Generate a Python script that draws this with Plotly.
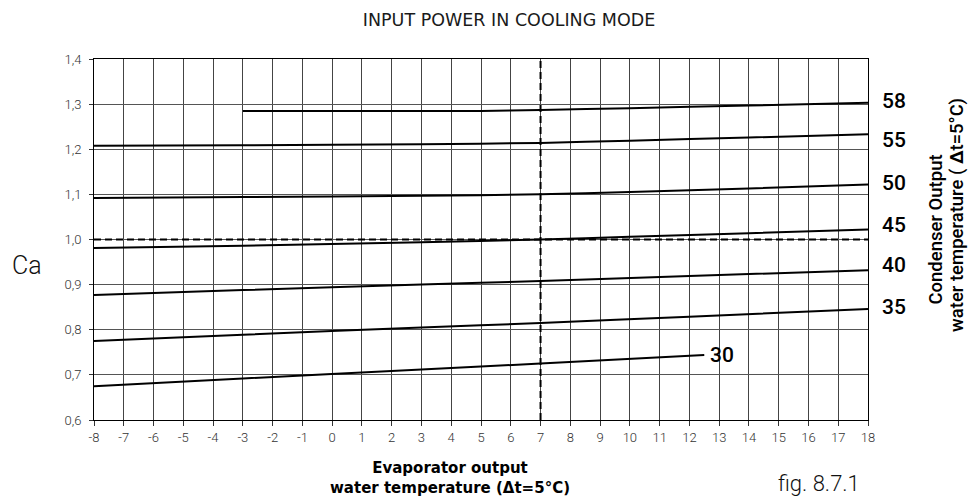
import plotly.graph_objects as go

# Evaporator output water temperature (x) and Ca values for each condenser curve
x_58 = [-3, 0, 5, 7, 10, 14, 18]
y_58 = [1.285, 1.285, 1.285, 1.287, 1.291, 1.297, 1.303]
x_55 = [-8, -3, 3, 7, 10, 14, 18]
y_55 = [1.208, 1.209, 1.211, 1.214, 1.219, 1.226, 1.233]
x_50 = [-8, -3, 3, 7, 10, 14, 18]
y_50 = [1.092, 1.094, 1.097, 1.100, 1.105, 1.113, 1.122]
x_45 = [-8, -3, 3, 7, 10, 14, 18]
y_45 = [0.981, 0.986, 0.994, 1.000, 1.006, 1.014, 1.022]
x_40 = [-8, -3, 3, 7, 12, 18]
y_40 = [0.877, 0.888, 0.900, 0.908, 0.919, 0.932]
x_35 = [-8, -3, 3, 7, 12, 18]
y_35 = [0.775, 0.789, 0.805, 0.815, 0.829, 0.846]
x_30 = [-8, -3, 3, 7, 12.5]
y_30 = [0.675, 0.692, 0.712, 0.725, 0.744]

curve_names = ["58", "55", "50", "45", "40", "35", "30"]
curves_x = [x_58, x_55, x_50, x_45, x_40, x_35, x_30]
curves_y = [y_58, y_55, y_50, y_45, y_40, y_35, y_30]

# Right-hand condenser labels (data y of label centres)
label_y = [1.307, 1.220, 1.125, 1.032, 0.943, 0.850]
label_names = ["58", "55", "50", "45", "40", "35"]

x_ticks = list(range(-8, 19))
x_tick_text = [str(v) for v in x_ticks]          # plain hyphen minus as in the reference
y_ticks = [0.6, 0.7, 0.8, 0.9, 1.0, 1.1, 1.2, 1.3, 1.4]
y_tick_text = ["0,6", "0,7", "0,8", "0,9", "1,0", "1,1", "1,2", "1,3", "1,4"]

ref_x = 7
ref_y = 1.0

FONT = "Roboto"
WIDE = "DejaVu Sans"

fig = go.Figure()

for cx, cy, nm in zip(curves_x, curves_y, curve_names):
    fig.add_trace(go.Scatter(x=cx, y=cy, mode="lines", name=nm,
                             line=dict(color="black", width=2, shape="spline", smoothing=0.6),
                             showlegend=False, hoverinfo="skip"))

# dashed reference lines
fig.add_trace(go.Scatter(x=[x_ticks[0], x_ticks[-1]], y=[ref_y, ref_y], mode="lines",
                         line=dict(color="black", width=2, dash="7px,4px"),
                         showlegend=False, hoverinfo="skip"))
fig.add_trace(go.Scatter(x=[ref_x, ref_x], y=[y_ticks[0], y_ticks[-1]], mode="lines",
                         line=dict(color="black", width=2, dash="7px,4px"),
                         showlegend=False, hoverinfo="skip"))

for ly, ln in zip(label_y, label_names):
    fig.add_annotation(x=1.0, xref="paper", y=ly, yref="y", text=ln, showarrow=False,
                       xanchor="left", xshift=12,
                       font=dict(family=FONT, size=21, color="black", weight=500))

# "30" label at end of its curve
fig.add_annotation(x=x_30[-1], y=y_30[-1], text="30", showarrow=False, xanchor="left",
                   xshift=4, font=dict(family=FONT, size=21, color="black", weight=500))

# right rotated title (two lines)
fig.add_annotation(x=1.0866, xref="paper", y=0.5277, yref="paper",
                   text="Condenser Output", showarrow=False, textangle=-90,
                   xanchor="center", yanchor="middle",
                   font=dict(family=FONT, size=18.5, color="black", weight=500))
fig.add_annotation(x=1.115, xref="paper", y=0.568, yref="paper",
                   text="water temperature ( <b>Δ</b>t=5°C)", showarrow=False, textangle=-90,
                   xanchor="center", yanchor="middle",
                   font=dict(family=FONT, size=18.5, color="black", weight=500))

fig.add_annotation(x=-0.0866, xref="paper", y=0.427, yref="paper", text="Ca",
                   showarrow=False, xanchor="center", yanchor="middle",
                   font=dict(family=FONT, size=25, color="#111", weight=300))

fig.add_annotation(x=0.46, xref="paper", y=-0.1607, yref="paper", yanchor="middle",
                   text="<b>Evaporator output</b><br><b>water temperature (Δt=5°C)</b>",
                   showarrow=False, xanchor="center",
                   font=dict(family=WIDE, size=15, color="black"))

fig.add_annotation(x=0.9367, xref="paper", y=-0.177, yref="paper", yanchor="middle",
                   text="fig. 8.7.1", showarrow=False, xanchor="center",
                   font=dict(family=FONT, size=22, color="#111", weight=300))

fig.update_layout(
    width=979, height=502,
    margin=dict(l=94, r=111, t=59, b=82),
    paper_bgcolor="white", plot_bgcolor="white",
    title=dict(text="INPUT POWER IN COOLING MODE", x=509 / 979, xanchor="center",
               y=1 - 20 / 502, yanchor="middle",
               font=dict(family=WIDE, size=17.5, color="#1a1a1a")),
    font=dict(family=FONT, color="#222"),
)
fig.update_xaxes(range=[x_ticks[0], x_ticks[-1]], tickmode="array", tickvals=x_ticks,
                 ticktext=x_tick_text,
                 showgrid=True, gridcolor="#444", gridwidth=1,
                 showline=True, linecolor="black", linewidth=1, mirror=True,
                 ticks="outside", ticklen=5, tickcolor="#333",
                 tickfont=dict(family=FONT, size=13, color="#333", weight=300),
                 zeroline=False)
fig.update_yaxes(range=[y_ticks[0], y_ticks[-1]], tickmode="array", tickvals=y_ticks,
                 ticktext=y_tick_text, ticklabelstandoff=5,
                 showgrid=True, gridcolor="#555", gridwidth=1,
                 showline=True, linecolor="black", linewidth=1, mirror=True,
                 ticks="outside", ticklen=4, tickcolor="#333",
                 tickfont=dict(family=FONT, size=13, color="#333", weight=300),
                 zeroline=False)

fig.write_html("out.html", config={"displayModeBar": False},
               post_script="document.body.style.margin='0px';")
